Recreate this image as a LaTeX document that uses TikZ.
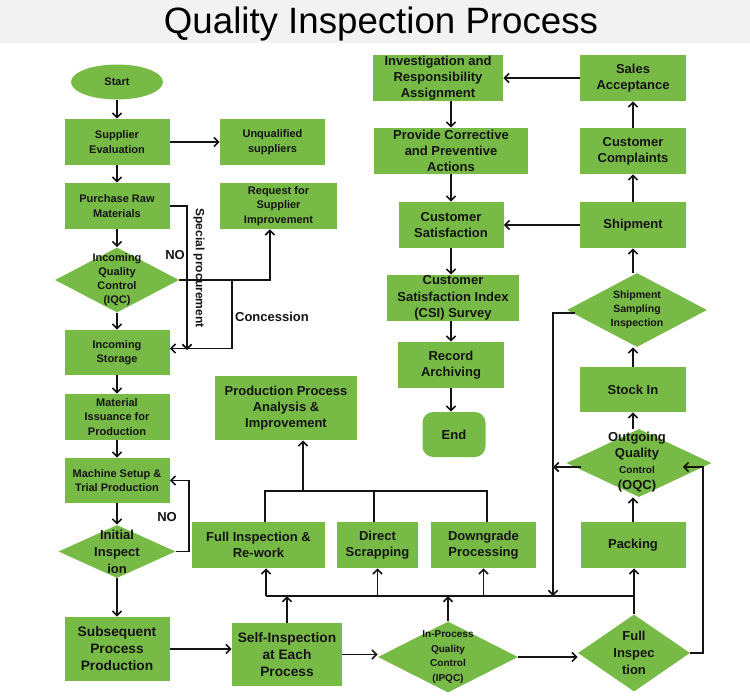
\documentclass[tikz,border=0pt]{standalone}
\usepackage{fontspec}
\setmainfont{Liberation Sans}
\usetikzlibrary{shapes.geometric,arrows.meta}

\begin{document}
\begin{tikzpicture}[x=0.75pt,y=-0.75pt]
  % Colores
  \definecolor{boxgreen}{RGB}{120,186,70}
  \definecolor{titlegray}{RGB}{242,242,242}
  \definecolor{inkcolor}{RGB}{20,20,20}

  % Estilos
  \tikzset{
    sz/.style 2 args={minimum width=#1*0.75pt, minimum height=#2*0.75pt},
    box/.style={rectangle, fill=boxgreen, inner sep=0pt, align=center, text=inkcolor, font=\bfseries\fontsize{9.75}{12.2}\selectfont},
    smallbox/.style={box, font=\bfseries\fontsize{8.25}{10.8}\selectfont},
    bigbox/.style={box, font=\bfseries\fontsize{10.3}{12.8}\selectfont},
    dia/.style={diamond, fill=boxgreen, inner sep=0pt},
    diatext/.style={align=center, text=inkcolor, inner sep=0pt},
    arr/.style={-{Straight Barb[length=3.5pt,width=7pt]}, line width=1.2pt, draw=inkcolor},
    wire/.style={line width=1.6pt, draw=inkcolor},
    note/.style={font=\bfseries\fontsize{9.75}{12}\selectfont, text=inkcolor, inner sep=0pt}
  }

  \useasboundingbox (0,0) rectangle (750,700);

  % Titulo
  \fill[titlegray] (0,0) rectangle (750,43);
  \node[font=\fontsize{27.5}{32}\selectfont, text=black, inner sep=0pt, anchor=base] (title) at (381,33) {Quality Inspection Process};

  % Columna izquierda
  \node[ellipse, fill=boxgreen, sz={92}{35}, inner sep=0pt, text=inkcolor, font=\bfseries\fontsize{8.25}{10}\selectfont] (start) at (117,82) {Start};
  \node[smallbox, sz={105}{46}] (supeval) at (117,142) {Supplier\\Evaluation};
  \node[smallbox, sz={105}{46}] (unq) at (272.5,142) {Unqualified\\suppliers};
  \node[smallbox, sz={105}{46}] (purch) at (117,206) {Purchase Raw\\Materials};
  \node[smallbox, sz={117}{46}] (req) at (278.5,206) {Request for\\Supplier\\Improvement};
  \node[dia, sz={124}{65}] (iqc) at (117,280) {};
  \node[diatext, font=\bfseries\fontsize{8.25}{10.5}\selectfont] (iqc-t) at (iqc) {Incoming\\Quality\\Control\\(IQC)};
  \node[smallbox, sz={105}{45}] (instore) at (117,352.5) {Incoming\\Storage};
  \node[smallbox, sz={105}{46}, font=\bfseries\fontsize{8.25}{11.2}\selectfont] (issue) at (117,417) {Material\\Issuance for\\Production};
  \node[smallbox, sz={105}{45}] (setup) at (117,480.5) {Machine Setup \&\\Trial Production};
  \node[dia, sz={117}{53}] (initinsp) at (117,551.5) {};
  \node[diatext, font=\bfseries\fontsize{9.75}{12.7}\selectfont] (initinsp-t) at (initinsp) {Initial\\Inspect\\ion};
  \node[bigbox, sz={105}{64}] (subseq) at (117,649) {Subsequent\\Process\\Production};

  % Produccion
  \node[bigbox, sz={110}{63}] (selfinsp) at (287,654.5) {Self-Inspection\\at Each\\Process};
  \node[box, sz={142}{64}] (ppa) at (286,408) {Production Process\\Analysis \&\\Improvement};
  \node[box, sz={133}{46}] (fullrw) at (258.5,545) {Full Inspection \&\\Re-work};
  \node[box, sz={81}{46}] (dscrap) at (377.5,545) {Direct\\Scrapping};
  \node[box, sz={105}{46}] (dgrade) at (483.5,545) {Downgrade\\Processing};
  \node[dia, sz={140}{71}] (ipqc) at (448,657) {};
  \node[diatext, font=\bfseries\fontsize{7.5}{10.9}\selectfont] (ipqc-t) at (ipqc) {In-Process\\Quality\\Control\\(IPQC)};
  \node[dia, sz={112}{77}] (fullinsp) at (634,653) {};
  \node[diatext, font=\bfseries\fontsize{9.75}{12.7}\selectfont] (fullinsp-t) at (fullinsp) {Full\\Inspec\\tion};

  % Columna derecha
  \node[box, sz={105}{46}] (packing) at (633,545) {Packing};
  \node[dia, sz={145}{68}] (oqc) at (639,463) {};
  \node[diatext, font=\bfseries\fontsize{9.75}{12}\selectfont] (oqc-t) at (637,462) {Outgoing\\Quality\\{\fontsize{7.5}{12}\selectfont Control}\\(OQC)};
  \node[box, sz={106}{45}] (stockin) at (633,389.5) {Stock In};
  \node[dia, sz={140}{74}] (shipsamp) at (637,310) {};
  \node[diatext, font=\bfseries\fontsize{7.9}{10.5}\selectfont] (shipsamp-t) at (shipsamp) {Shipment\\Sampling\\Inspection};
  \node[box, sz={106}{46}] (shipment) at (633,225) {Shipment};
  \node[box, sz={106}{46}] (complaints) at (633,151) {Customer\\Complaints};
  \node[box, sz={106}{46}] (sales) at (633,78) {Sales\\Acceptance};

  % Columna central
  \node[box, sz={130}{46}] (invest) at (438,78) {Investigation and\\Responsibility\\Assignment};
  \node[box, sz={154}{46}] (provide) at (451,151) {Provide Corrective\\and Preventive\\Actions};
  \node[box, sz={105}{46}] (custsat) at (451,225) {Customer\\Satisfaction};
  \node[box, sz={132}{46}] (csi) at (453,298) {Customer\\Satisfaction Index\\(CSI) Survey};
  \node[box, sz={106}{46}] (record) at (451,365) {Record\\Archiving};
  \node[box, sz={63}{45}, rounded corners=8pt] (end) at (454,434.5) {End};

  % Puntos de union
  \coordinate (spend) at (187,350);
  \coordinate (cjoin) at (232,280);
  \coordinate (busL) at (266,596);
  \coordinate (busR) at (634,596);
  \coordinate (tapL) at (265,491);
  \coordinate (tapR) at (487,491);
  \coordinate (tapU) at (303,491);
  \coordinate (drop) at (553,596);

  % Flechas columna izquierda
  \draw[arr] (start) -- (supeval);
  \draw[arr] (supeval) -- (unq);
  \draw[arr] (supeval) -- (purch);
  \draw[arr] (purch) -- (iqc);
  \draw[arr] (iqc) -- (instore);
  \draw[arr] (purch.east) -| (spend);
  \draw[arr] (iqc.east) -| ([xshift=-6.4pt]req.south);
  \draw[arr] (cjoin) |- ([yshift=3pt]instore.east);
  \draw[arr] (instore) -- (issue);
  \draw[arr] (issue) -- (setup);
  \draw[arr] (setup) -- (initinsp);
  \draw[arr] (initinsp) -- (subseq);
  \draw[arr] (initinsp.east) -- ++(13,0) |- (setup.east);
  \draw[arr] (subseq.east) -- (subseq.east -| selfinsp.west);

  % Rotulos
  \node[note, rotate=-90, font=\bfseries\fontsize{9}{11}\selectfont] (sp-l) at (199,268) {Special procurement};
  \node[note] (no1-l) at (175,255) {NO};
  \node[note] (con-l) at (272,317) {Concession};
  \node[note] (no2-l) at (167,517) {NO};

  % Barras de produccion
  \draw[wire] (busL) -- (busR);
  \draw[arr] (selfinsp.north) -- (selfinsp.north |- busL);
  \draw[arr] (ipqc.north) -- (ipqc.north |- busL);
  \draw[arr] (busL) -- (busL |- fullrw.south);
  \draw[arr] (dscrap.south |- busL) -- (dscrap.south);
  \draw[arr] (dgrade.south |- busL) -- (dgrade.south);
  \draw[wire] (tapL |- fullrw.north) -- (tapL) -- (tapR) -- (tapR |- dgrade.north);
  \draw[wire] (dscrap.north -| 374,0) -- (374,491);
  \draw[arr] (tapU) -- (tapU |- ppa.south);
  \draw[arr] (selfinsp.east) -- (selfinsp.east -| ipqc.west);
  \draw[arr] (ipqc.east) -- (ipqc.east -| fullinsp.west);

  % Flechas columna derecha
  \draw[arr] (fullinsp.north) -- (fullinsp.north |- packing.south);
  \draw[arr] (packing.north) -- (packing.north |- oqc.south);
  \draw[arr] (stockin.south |- oqc.north) -- (stockin.south);
  \draw[arr] (stockin.north) -- (stockin.north |- shipsamp.south);
  \draw[arr] (shipment.south |- shipsamp.north) -- (shipment.south);
  \draw[arr] (shipment) -- (complaints);
  \draw[arr] (complaints) -- (sales);
  \draw[arr] (fullinsp.east) -- ++(13,0) |- ([xshift=-21.75pt,yshift=-3pt]oqc.east);
  \draw[arr] ([xshift=11pt,yshift=-3pt]oqc.west) -- ([yshift=-3pt]oqc.west -| drop);
  \draw[arr] ([xshift=6pt,yshift=-2.3pt]shipsamp.west) -| (drop);

  % Flechas columna central
  \draw[arr] (sales) -- (invest);
  \draw[arr] (shipment) -- (custsat);
  \draw[arr] (invest.south -| provide) -- (provide);
  \draw[arr] (provide) -- (custsat);
  \draw[arr] (custsat.south) -- (custsat.south |- csi.north);
  \draw[arr] (csi.south -| record) -- (record);
  \draw[arr] (record.south) -- (record.south |- end.north);
\end{tikzpicture}
\end{document}
